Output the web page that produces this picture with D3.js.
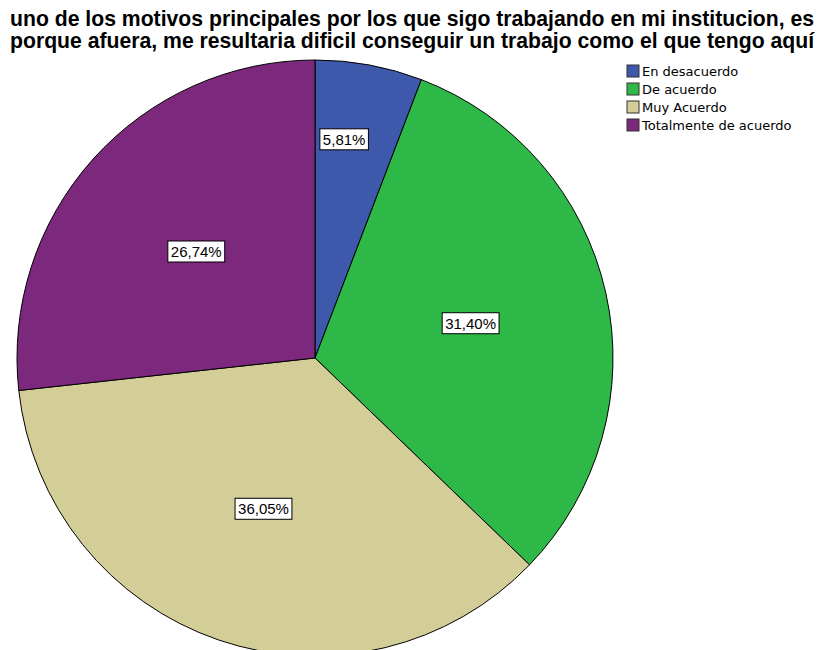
<!DOCTYPE html>
<html lang="es">
<head>
    <meta charset="UTF-8">
    <script src="https://d3js.org/d3.v7.min.js"></script>
    <title>Pie</title>
    <style>
        body { margin: 0; background: #fff; }
        svg { display: block; }
    </style>
</head>
<body>
    <script>
        const titleLines = [
            "uno de los motivos principales por los que sigo trabajando en mi institucion, es",
            "porque afuera, me resultaria dificil conseguir un trabajo como el que tengo aquí"
        ];
        const categories = ["En desacuerdo", "De acuerdo", "Muy Acuerdo", "Totalmente de acuerdo"];
        const percents = [5.81, 31.40, 36.05, 26.74];
        const colors = ["#3e58ac", "#2eb848", "#d3ce97", "#7c287d"];

        const width = 820;
        const height = 650;
        const cx = 315, cy = 358, radius = 298;

        const svg = d3.select('body')
            .append('svg')
            .attr('width', width)
            .attr('height', height);

        // title
        svg.append('g').selectAll('text')
            .data(titleLines).enter()
            .append('text')
            .attr('x', 10)
            .attr('y', (d, i) => 26 + i * 22)
            .attr('font-family', 'Liberation Sans, Arial, sans-serif')
            .attr('font-weight', 'bold')
            .attr('font-size', 21.2)
            .attr('fill', '#000')
            .text(d => d);

        const data = categories.map((c, i) => ({name: c, value: percents[i], color: colors[i]}));

        const pie = d3.pie()
            .value(d => d.value)
            .sort(null);

        const arc = d3.arc()
            .innerRadius(0)
            .outerRadius(radius);

        const arcs = pie(data);

        const g = svg.append('g')
            .attr('transform', `translate(${cx}, ${cy})`);

        g.selectAll('path')
            .data(arcs).enter()
            .append('path')
            .attr('d', arc)
            .attr('fill', d => d.data.color)
            .attr('stroke', '#000')
            .attr('stroke-width', 1);

        // labels, small slices pushed outward
        const labelPos = d => {
            let a = (d.startAngle + d.endAngle) / 2;
            let r = radius * 0.535;
            if (d.data.value < 10) { r = radius * 0.74; a -= 0.05; }
            return [Math.sin(a) * r, -Math.cos(a) * r];
        };

        const fmt = v => v.toFixed(2).replace('.', ',') + '%';

        const labels = g.selectAll('g.lbl')
            .data(arcs).enter()
            .append('g')
            .attr('class', 'lbl')
            .attr('transform', d => `translate(${labelPos(d)})`);

        labels.append('text')
            .attr('text-anchor', 'middle')
            .attr('dy', '0.36em')
            .attr('font-family', 'Liberation Sans, Arial, sans-serif')
            .attr('font-size', 15)
            .attr('fill', '#000')
            .text(d => fmt(d.data.value));

        labels.each(function() {
            const t = d3.select(this).select('text');
            const b = t.node().getBBox();
            d3.select(this).insert('rect', 'text')
                .attr('x', b.x - 3)
                .attr('y', b.y - 2)
                .attr('width', b.width + 6)
                .attr('height', b.height + 4)
                .attr('fill', '#fff')
                .attr('stroke', '#000')
                .attr('stroke-width', 1);
        });

        // legend
        const legend = svg.append('g')
            .attr('transform', 'translate(627, 65)');

        const row = legend.selectAll('g')
            .data(data).enter()
            .append('g')
            .attr('transform', (d, i) => `translate(0, ${i * 18})`);

        row.append('rect')
            .attr('width', 12)
            .attr('height', 12)
            .attr('fill', d => d.color)
            .attr('stroke', '#333')
            .attr('stroke-width', 1);

        row.append('text')
            .attr('x', 15)
            .attr('y', 11)
            .attr('font-family', 'DejaVu Sans, Verdana, sans-serif')
            .attr('font-size', 13)
            .attr('fill', '#000')
            .text(d => d.name);
    </script>
</body>
</html>
